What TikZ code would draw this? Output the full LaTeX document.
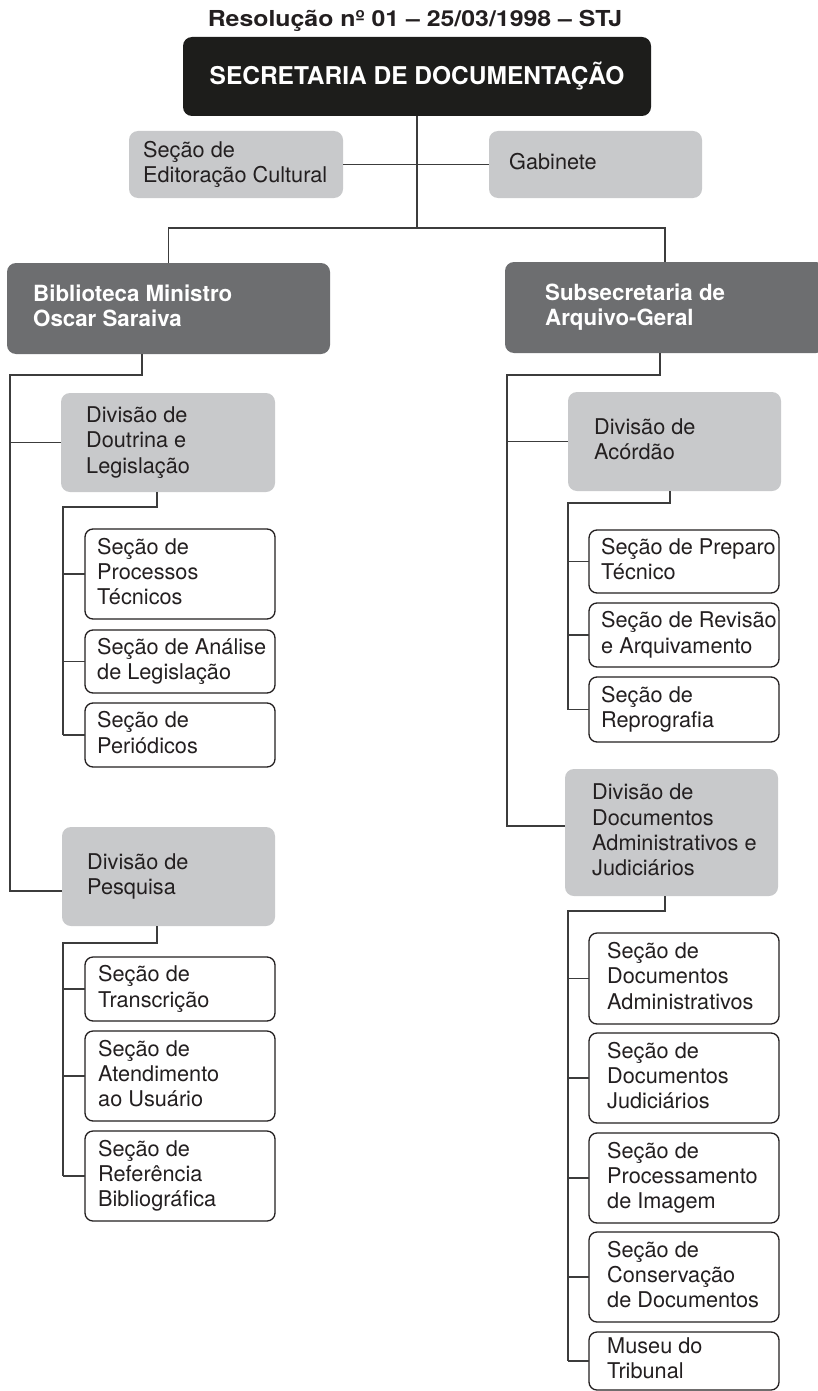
\documentclass[tikz,border=0pt]{standalone}
\usepackage{fontspec}
\setmainfont{TeX Gyre Heros}
\usepackage{graphicx}
\definecolor{topblack}{HTML}{1D1D1B}
\definecolor{dgrayfill}{HTML}{6D6E70}
\definecolor{lgrayfill}{HTML}{C8C9CB}
\definecolor{linec}{HTML}{3C3C3C}
\definecolor{textc}{HTML}{231F20}
\newcommand\tstrut{\rule[-0.25em]{0pt}{0.97em}}
\newcommand\orgbox[9]{%
  \node[#1, minimum width=#6pt, minimum height=#7pt] (#3) at (#4,#5) {};
  \node[#2] (#3-t) at ([xshift=#8pt]#3.west) {\tstrut #9\tstrut};
}
\tikzset{
  conn/.style={draw=linec, line width=1.4pt},
  boxbase/.style={anchor=north west, inner sep=0pt, outer sep=0pt},
  gbox/.style={boxbase, fill=lgrayfill, rounded corners=9pt},
  dbox/.style={boxbase, fill=dgrayfill, rounded corners=9pt},
  wbox/.style={boxbase, draw=textc, line width=1.3pt, fill=white, rounded corners=8pt},
  rtxt/.style={anchor=west, align=left, inner sep=0pt, text=textc, font=\fontsize{21.7}{25.3}\selectfont},
  htxt/.style={anchor=west, align=left, inner sep=0pt, text=white, font=\bfseries\fontsize{22.3}{25.3}\selectfont},
}
\begin{document}
\begin{tikzpicture}[x=1pt,y=-1pt]
\useasboundingbox (0,0) rectangle (818,1391);
\clip (0,0) rectangle (818,1391);
\fill[white] (0,0) rectangle (818,1391);

% title
\node[inner sep=0pt, anchor=base, text=textc, font=\bfseries\fontsize{22}{26}\selectfont] (title) at (415,27) {\scalebox{1.13}[1]{Resolução nº 01 – 25/03/1998 – STJ}};

% top box
\node[boxbase, fill=topblack, rounded corners=9pt, minimum width=468pt, minimum height=79pt] (top) at (183,37) {};
\node[anchor=center, inner sep=0pt, text=white, font=\bfseries\fontsize{24.5}{28}\selectfont] (top-t) at (top.center) {\tstrut SECRETARIA DE DOCUMENTAÇÃO\tstrut};

% staff boxes
\orgbox{gbox}{rtxt}{edit}{129}{131}{214}{67}{14}{Seção de\\Editoração Cultural}
\orgbox{gbox}{rtxt}{gab}{489}{131}{213}{67}{20}{Gabinete}

% main branches
\orgbox{dbox}{htxt}{bib}{7}{263}{323}{91}{26}{Biblioteca Ministro\\Oscar Saraiva}
\orgbox{dbox}{htxt}{sub}{505}{262}{320}{91}{40}{Subsecretaria de\\Arquivo-Geral}

% left divisions
\orgbox{gbox}{rtxt}{doutr}{61}{393}{214}{99}{25}{Divisão de\\Doutrina e\\Legislação}
\orgbox{gbox}{rtxt}{pesq}{62}{827}{213}{99}{25}{Divisão de\\Pesquisa}

\orgbox{wbox}{rtxt}{proc}{85}{529}{190}{90}{12}{Seção de\\Processos\\Técnicos}
\orgbox{wbox}{rtxt}{anal}{85}{630}{190}{63}{12}{Seção de Análise\\de Legislação}
\orgbox{wbox}{rtxt}{peri}{85}{703}{190}{64}{12}{Seção de\\Periódicos}

\orgbox{wbox}{rtxt}{trans}{85}{957}{190}{64}{13}{Seção de\\Transcrição}
\orgbox{wbox}{rtxt}{atend}{85}{1031}{190}{90}{13}{Seção de\\Atendimento\\ao Usuário}
\orgbox{wbox}{rtxt}{refb}{85}{1131}{190}{90}{13}{Seção de\\Referência\\Bibliográfica}

% right divisions
\orgbox{gbox}{rtxt}{acor}{568}{392}{213}{99}{26}{Divisão de\\Acórdão}
\orgbox{gbox}{rtxt}{ddoc}{565}{769}{213}{127}{27}{Divisão de\\Documentos\\Administrativos e\\Judiciários}

\orgbox{wbox}{rtxt}{prep}{589}{530}{190}{63}{12}{Seção de Preparo\\Técnico}
\orgbox{wbox}{rtxt}{revi}{589}{603}{190}{64}{12}{Seção de Revisão\\e Arquivamento}
\orgbox{wbox}{rtxt}{repr}{589}{677}{190}{65}{12}{Seção de\\Reprografia}

\orgbox{wbox}{rtxt}{dadm}{589}{933}{190}{91}{18}{Seção de\\Documentos\\Administrativos}
\orgbox{wbox}{rtxt}{djud}{589}{1033}{190}{90}{18}{Seção de\\Documentos\\Judiciários}
\orgbox{wbox}{rtxt}{dproc}{589}{1133}{190}{90}{18}{Seção de\\Processamento\\de Imagem}
\orgbox{wbox}{rtxt}{dcons}{589}{1232}{190}{90}{18}{Seção de\\Conservação\\de Documentos}
\orgbox{wbox}{rtxt}{museu}{589}{1332}{190}{58}{18}{Museu do\\Tribunal}

% connectors: top level
\coordinate (hub) at (417,228);
\draw[conn] (top.south) -- (hub);
\draw[conn] (edit.east) -- (gab.west);
\draw[conn] (bib.north) |- (hub) -| (sub.north);

% left trunk
\coordinate (bibE) at (142,375);
\coordinate (lsp) at (10,375);
\coordinate (pesqIn) at (62,891);
\draw[conn] (bibE |- bib.south) -- (bibE) -- (lsp) |- (pesqIn);
\draw[conn] (lsp |- doutr.west) -- (doutr.west);

% doutrina group
\coordinate (dP) at (157,507);
\coordinate (dS) at (63,507);
\draw[conn] (dP |- doutr.south) -- (dP) -- (dS) -- (dS |- peri.west);
\foreach \nn in {proc,anal,peri} \draw[conn] (dS |- \nn.west) -- (\nn.west);

% pesquisa group
\coordinate (pP) at (157,943);
\coordinate (pS) at (63,943);
\draw[conn] (pP |- pesq.south) -- (pP) -- (pS) -- (pS |- refb.west);
\foreach \nn in {trans,atend,refb} \draw[conn] (pS |- \nn.west) -- (\nn.west);

% right trunk
\coordinate (subE) at (660,375);
\coordinate (rsp) at (507,375);
\coordinate (ddocIn) at (565,826);
\draw[conn] (subE |- sub.south) -- (subE) -- (rsp) |- (ddocIn);
\draw[conn] (rsp |- acor.west) -- (acor.west);

% acordao group
\coordinate (aP) at (670,503);
\coordinate (aS) at (568,503);
\draw[conn] (aP |- acor.south) -- (aP) -- (aS) -- (aS |- repr.west);
\foreach \nn in {prep,revi,repr} \draw[conn] (aS |- \nn.west) -- (\nn.west);

% documentos group
\coordinate (gP) at (665,911);
\coordinate (gS) at (568,911);
\draw[conn] (gP |- ddoc.south) -- (gP) -- (gS) -- (gS |- museu.west);
\foreach \nn in {dadm,djud,dproc,dcons,museu} \draw[conn] (gS |- \nn.west) -- (\nn.west);
\end{tikzpicture}
\end{document}
